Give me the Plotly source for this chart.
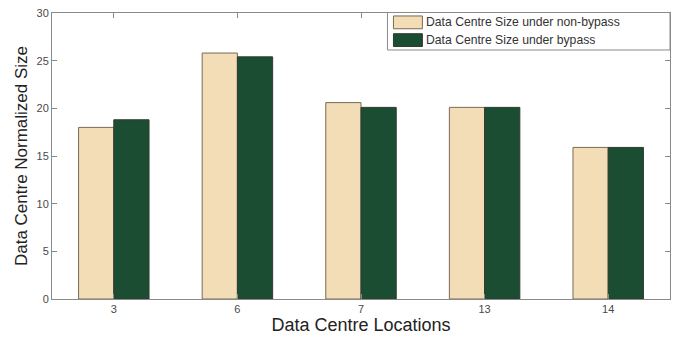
import plotly.graph_objects as go

locations = ["3", "6", "7", "13", "14"]
size_non_bypass = [18.0, 25.8, 20.6, 20.1, 15.9]
size_bypass = [18.8, 25.4, 20.1, 20.1, 15.9]
y_ticks = [0, 5, 10, 15, 20, 25, 30]

series_names = ["Data Centre Size under non-bypass", "Data Centre Size under bypass"]
series_fill = ["#F3DDB6", "#1B4D33"]
series_edge = ["#7a6a55", "#2e3a30"]

FONT = "Liberation Sans, Arial, sans-serif"
AXIS_GREY = "#8a8a8a"
W, H = 678, 337
M = dict(l=52, r=7, t=13, b=34)

fig = go.Figure()
for name, vals, fill, edge in zip(series_names, [size_non_bypass, size_bypass], series_fill, series_edge):
    fig.add_trace(go.Bar(
        x=locations, y=vals, name=name, showlegend=False,
        marker=dict(color=fill, line=dict(color=edge, width=1)),
    ))

# boxed legend in the upper-right corner, positioned in pixels
pw, ph = W - M["l"] - M["r"], H - M["t"] - M["b"]
def px(x):
    return (x - M["l"]) / pw
def py(y):
    return 1 - (y - M["t"]) / ph

fig.add_shape(type="rect", xref="paper", yref="paper",
              x0=px(388), x1=px(671), y0=py(50.5), y1=py(12.5),
              line=dict(color=AXIS_GREY, width=1), fillcolor="white")
rows = [(16, 29), (34, 47)]
for (top, bot), name, fill, edge in zip(rows, series_names, series_fill, series_edge):
    fig.add_shape(type="rect", xref="paper", yref="paper",
                  x0=px(394), x1=px(423), y0=py(bot), y1=py(top),
                  line=dict(color=edge, width=1), fillcolor=fill)
    fig.add_annotation(xref="paper", yref="paper", x=px(425), y=py((top + bot) / 2),
                       text=name, showarrow=False, xanchor="left", yanchor="middle",
                       font=dict(family=FONT, size=12.2, color="#333333"))

fig.update_layout(
    width=W, height=H,
    margin=M,
    paper_bgcolor="white", plot_bgcolor="white",
    barmode="group", bargap=0.43, bargroupgap=0,
    font=dict(family=FONT, color="#4a4a4a", size=11),
    showlegend=False,
)
fig.update_xaxes(
    type="category", range=[-0.5, 4.5],
    title=dict(text="Data Centre Locations", font=dict(size=18, color="#222222"), standoff=2),
    showline=True, linecolor=AXIS_GREY, linewidth=1, mirror="ticks",
    ticks="inside", ticklen=5, tickcolor=AXIS_GREY,
    showgrid=False, zeroline=False,
)
fig.update_yaxes(
    range=[0, 30], tickvals=y_ticks,
    title=dict(text="Data Centre Normalized Size", font=dict(size=17, color="#222222"), standoff=4),
    showline=True, linecolor=AXIS_GREY, linewidth=1, mirror="ticks",
    ticks="inside", ticklen=5, tickcolor=AXIS_GREY,
    showgrid=False, zeroline=False,
)

fig.write_html("out.html")
